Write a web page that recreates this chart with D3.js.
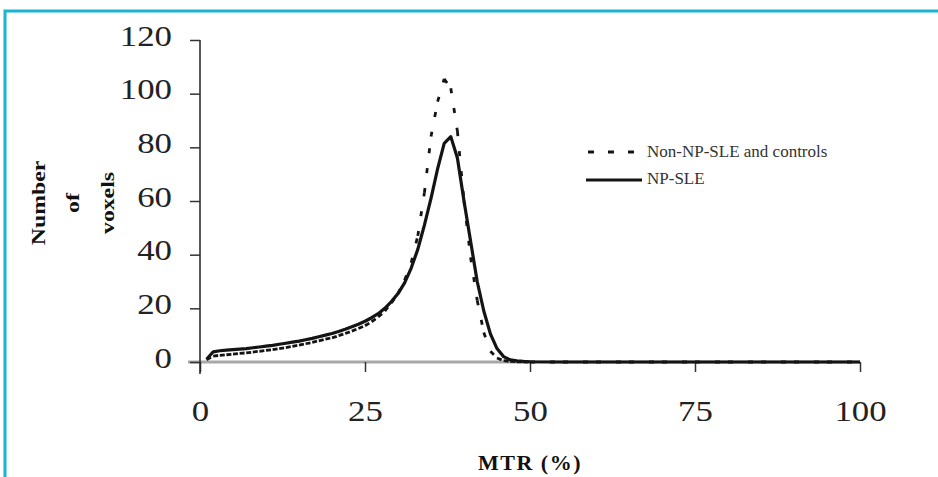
<!DOCTYPE html>
<html><head><meta charset="utf-8">
<script src="https://cdn.jsdelivr.net/npm/d3@7"></script>
<style>body{margin:0;background:#fff;} svg{display:block;} text{font-family:"Liberation Serif","Times New Roman",Times,serif;}</style>
</head><body><svg id="c" width="938" height="477"></svg>
<script>
// ---- data ----
const mtr = [1,2,3,4,5,6,7,8,9,10,11,12,13,14,15,16,17,18,19,20,21,22,23,24,25,26,27,28,29,30,31,32,33,34,35,36,37,38,39,40,41,42,43,44,45,46,47,48,49,50,55,60,65,70,75,80,85,90,95,100];
const npSle = [1.0,3.8,4.2,4.4,4.6,4.8,5.0,5.3,5.6,5.9,6.2,6.6,7.0,7.4,7.8,8.3,8.8,9.4,10.0,10.6,11.4,12.2,13.1,14.1,15.2,16.5,18.0,20.0,22.5,25.5,29.5,35,42,51,61,72,81.5,84,76,60,45,30,19,10.5,5,2,0.8,0.4,0.2,0.1,0,0,0,0,0,0,0,0,0,0];
const nonNpSle = [0.8,2.2,2.5,2.7,2.9,3.2,3.4,3.7,4.0,4.3,4.6,5.0,5.4,5.8,6.3,6.8,7.3,7.9,8.5,9.0,9.8,10.6,11.5,12.5,13.5,15.0,16.8,19.0,22.0,25.5,30.5,37,47,63,84,97,105.5,102,86,60,39,23,11,4,1.5,0.5,0.2,0.1,0,0,0,0,0,0,0,0,0,0,0,0];
const xTicks = [0,25,50,75,100];
const yTicks = [0,20,40,60,80,100,120];
const seriesNames = ["Non-NP-SLE and controls","NP-SLE"];
const xTitle = "MTR (%)";
const yTitleLines = ["Number","of","voxels"];

// ---- drawing ----
const serif = "Liberation Serif, Times New Roman, Times, serif";
const svg = d3.select("#c");
const x = d3.scaleLinear().domain([0,100]).range([200,860]);
const y = d3.scaleLinear().domain([0,120]).range([362,40]);
const ink = "#141414";

// frame
svg.append("path").attr("d","M5,477V11H938").attr("fill","none")
  .attr("stroke","#19b4d0").attr("stroke-width",3);

// x axis
const gx = svg.append("g").attr("transform","translate(0,362)")
  .call(d3.axisBottom(x).tickValues(xTicks).tickSize(10).tickSizeOuter(0).tickFormat(d3.format("d")));
gx.attr("font-family",serif);
gx.select(".domain").attr("stroke","#a8a8a8").attr("stroke-width",3).attr("d","M188,0H860");
gx.selectAll(".tick line").attr("stroke","#333").attr("stroke-width",1.5);
gx.selectAll(".tick text").attr("fill","#222").attr("y",0).attr("dy",0)
  .attr("transform","translate(0,59) scale(1.2,1)")
  .attr("font-family",serif).attr("font-size",29);

// y axis
const gy = svg.append("g").attr("transform","translate(200,0)")
  .call(d3.axisLeft(y).tickValues(yTicks).tickSize(10).tickSizeOuter(0).tickFormat(d3.format("d")));
gy.attr("font-family",serif);
gy.select(".domain").attr("stroke","#222").attr("stroke-width",1.5).attr("d","M0,40V374");
gy.selectAll(".tick line").attr("stroke","#333").attr("stroke-width",1.5);
gy.selectAll(".tick text").attr("fill","#222").attr("x",0).attr("dy",0)
  .attr("transform","translate(-28,5) scale(1.2,1)")
  .attr("font-family",serif).attr("font-size",29);

// curves
const pts = (vals) => mtr.map((m,i)=>[x(m), y(vals[i])]);
const line = d3.line();
// solid NP-SLE
svg.append("path").attr("d", line(pts(npSle))).attr("fill","none")
  .attr("stroke",ink).attr("stroke-width",3.2).attr("stroke-linejoin","round");
// dashed Non-NP-SLE (dash pattern restarts on each segment)
svg.append("g").selectAll("path").data(d3.pairs(pts(nonNpSle))).join("path")
  .attr("d", d=>line(d)).attr("fill","none").attr("stroke",ink)
  .attr("stroke-width",2.8).attr("stroke-dasharray","5,15");

// legend
const lg = svg.append("g");
lg.append("line").attr("x1",588).attr("x2",640).attr("y1",152).attr("y2",152)
  .attr("stroke",ink).attr("stroke-width",3).attr("stroke-dasharray","6,14");
lg.append("line").attr("x1",586).attr("x2",642).attr("y1",180).attr("y2",180)
  .attr("stroke",ink).attr("stroke-width",3);
lg.selectAll("text").data(seriesNames).join("text")
  .attr("x",647).attr("y",(d,i)=>157+i*27).text(d=>d)
  .attr("fill","#333").attr("font-family",serif).attr("font-size",17);

// axis titles
svg.append("text").attr("x",530).attr("y",470).attr("text-anchor","middle").text(xTitle)
  .attr("fill","#111").attr("font-family",serif)
  .attr("font-size",22).attr("font-weight","bold").attr("letter-spacing",1.5);
svg.selectAll(".ytitle").data(yTitleLines).join("text").attr("class","ytitle")
  .attr("transform",(d,i)=>`translate(${[45,79,114][i]},203) rotate(-90) scale(1.25,1)`)
  .attr("text-anchor","middle").text(d=>d).attr("fill","#111")
  .attr("font-family",serif).attr("font-size",19).attr("font-weight","bold");
</script></body></html>
